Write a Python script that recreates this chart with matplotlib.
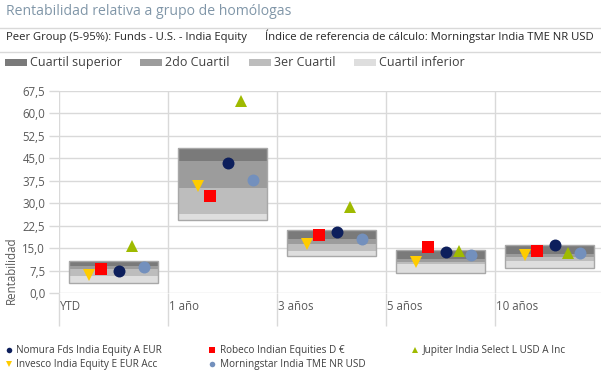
import numpy as np
import matplotlib
matplotlib.use("Agg")
import matplotlib.pyplot as plt
from matplotlib.lines import Line2D
from matplotlib.patches import Rectangle
from matplotlib.transforms import blended_transform_factory

plt.rcParams['font.family'] = ['Open Sans', 'DejaVu Sans']

# --------------------------------------------------------------------------- #
# DATOS
# --------------------------------------------------------------------------- #
categories = ["YTD", "1 año", "3 años", "5 años", "10 años"]

# percentiles del grupo de homólogos (5 / 25 / 50 / 75 / 95)
p95 = [10.8, 48.5, 21.2, 14.5, 16.2]
p75 = [9.2, 44.0, 18.1, 11.5, 13.1]
p50 = [8.0, 35.1, 16.4, 10.6, 12.0]
p25 = [5.9, 26.4, 14.1, 9.7, 10.8]
p5 = [3.3, 24.4, 12.6, 6.7, 8.4]

nomura = [7.6, 43.5, 20.3, 13.7, 16.2]
robeco = [8.0, 32.4, 19.4, 15.4, 14.0]
jupiter = [15.9, 64.1, 28.7, 14.0, 13.6]
invesco = [6.2, 35.8, 16.6, 10.5, 12.9]
morningstar = [8.8, 37.8, 18.2, 12.8, 13.4]

quartile_names = ["Cuartil superior", "2do Cuartil", "3er Cuartil", "Cuartil inferior"]
series_names = ["Nomura Fds India Equity A EUR", "Robeco Indian Equities D €",
                "Jupiter India Select L USD A Inc", "Invesco India Equity E EUR Acc",
                "Morningstar India TME NR USD"]

# --------------------------------------------------------------------------- #
# ESTILO
# --------------------------------------------------------------------------- #
W, H = 601, 381
GRID = "#d9d9d9"
TXT = "#404040"
Q_COLORS = ["#7a7a7a", "#9c9c9c", "#bdbdbd", "#dedede"]   # sup, 2do, 3er, inf
S_STYLE = [  # marker, color, size, offset dentro de la categoría
    ("o", "#0d1f5c", 8.6, 0.55),
    ("s", "#ff0000", 9.0, 0.38),
    ("^", "#9fba00", 8.6, 0.665),
    ("v", "#ffcc00", 8.6, 0.27),
    ("o", "#7390bd", 8.6, 0.775),
]


def fx(px):
    return px / W


def fy(py):
    return 1 - py / H


fig = plt.figure(figsize=(W / 100, H / 100), dpi=100)
ax = fig.add_axes([fx(59.3), fy(293.3), (604.3 - 59.3) / W, (293.3 - 91) / H])

n = len(categories)
xc = np.arange(n) + 0.497

# cajas de cuartiles
bands = [(p5, p25, Q_COLORS[3]), (p25, p50, Q_COLORS[2]),
         (p50, p75, Q_COLORS[1]), (p75, p95, Q_COLORS[0])]
for lo, hi, c in bands:
    ax.bar(xc, np.subtract(hi, lo), bottom=lo, width=0.81, color=c, linewidth=0, zorder=2)
ax.bar(xc, np.subtract(p95, p5), bottom=p5, width=0.81, fill=False,
       edgecolor="#a8a8a8", linewidth=1, zorder=3)

# fondos / índice
for vals, (mk, col, ms, off) in zip([nomura, robeco, jupiter, invesco, morningstar], S_STYLE):
    ax.plot(np.arange(n) + off, vals, linestyle="none", marker=mk, ms=ms,
            color=col, markeredgewidth=0, zorder=4)

ax.set_xlim(0, n)
ax.set_ylim(0, 67.5)
yt = np.arange(0, 67.6, 7.5)
ax.set_yticks(yt)
ax.set_yticklabels([f"{v:.1f}".replace(".", ",") for v in yt])
ax.set_xticks(range(n))
ax.set_xticklabels([])
ax.tick_params(axis="y", length=7.2, width=1, color=GRID, pad=3, labelsize=8.3, labelcolor="#595959")
ax.tick_params(axis="x", length=24, width=1, color=GRID)
ax.grid(True, color=GRID, linewidth=1, zorder=0)
ax.set_axisbelow(True)
for s in ax.spines.values():
    s.set_visible(False)

trans = blended_transform_factory(ax.transData, fig.transFigure)
for i, cat in enumerate(categories):
    ax.text(i + 0.01, fy(310), cat, ha="left", va="baseline", transform=trans,
            fontsize=8.3, color="#595959")

fig.text(fx(11), fy(270), "Rentabilidad", rotation=90, ha="center", va="center",
         fontsize=8.3, color="#595959")

# cabecera
fig.text(fx(6), fy(15), "Rentabilidad relativa a grupo de homólogas", fontsize=10.1,
         color="#8096a8", va="baseline")
fig.add_artist(Line2D([0, 1], [fy(28), fy(28)], color=GRID, lw=1, transform=fig.transFigure))
fig.add_artist(Line2D([0, 1], [fy(52), fy(52)], color=GRID, lw=1, transform=fig.transFigure))
fig.text(fx(6), fy(40), "Peer Group (5-95%): Funds - U.S. - India Equity", fontsize=8.1,
         color="#262626", va="baseline")
fig.text(fx(265), fy(40), "Índice de referencia de cálculo: Morningstar India TME NR USD",
         fontsize=8.1, color="#262626", va="baseline")

# leyenda de cuartiles
patch_x = [5, 140, 249, 354]
for px, name, c in zip(patch_x, quartile_names, Q_COLORS):
    fig.add_artist(Rectangle((fx(px), fy(66)), 22 / W, 7 / H, color=c,
                             transform=fig.transFigure, linewidth=0))
    fig.text(fx(px + 25), fy(66), name, fontsize=9, color=TXT, va="baseline")

# leyenda de series
leg_pos = [(8.5, 350), (211.5, 350), (415, 350), (8.5, 364), (211.5, 364)]
for (px, py), name, (mk, col, ms, off) in zip(leg_pos, series_names, S_STYLE):
    fig.add_artist(Line2D([fx(px)], [fy(py)], marker=mk, ms=4, color=col,
                          markeredgewidth=0, linestyle="none", transform=fig.transFigure))
    fig.text(fx(px + 8), fy(py), name, fontsize=7.2, color=TXT, va="center")

fig.savefig("out.png", dpi=100)
